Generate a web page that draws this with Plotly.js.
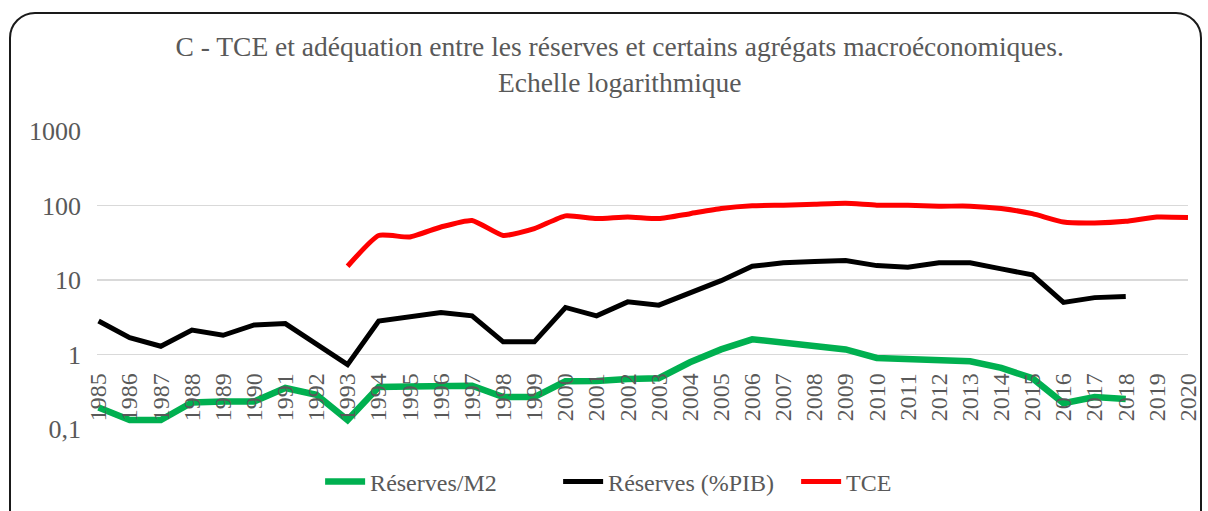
<!DOCTYPE html>
<html>
<head>
<meta charset="utf-8">
<script src="https://cdn.plot.ly/plotly-3.0.1.min.js"></script>
<style>
  html, body { margin: 0; padding: 0; background: #fff; }
  #wrap { position: relative; width: 1208px; height: 511px; overflow: hidden; }
  #chart { position: absolute; left: 0; top: 0; width: 1208px; height: 511px; }
  #frame { position: absolute; left: 9px; top: 12px; width: 1189px; height: 540px;
           border: 2px solid #1a1a1a; border-radius: 26px; pointer-events: none; }
</style>
</head>
<body>
<div id="wrap">
  <div id="chart"></div>
  <div id="frame"></div>
</div>
<script>
const years = ['1985','1986','1987','1988','1989','1990','1991','1992','1993','1994','1995','1996','1997','1998','1999','2000','2001','2002','2003','2004','2005','2006','2007','2008','2009','2010','2011','2012','2013','2014','2015','2016','2017','2018','2019','2020'];

const reservesM2 = [0.194,0.132,0.132,0.227,0.234,0.234,0.355,0.288,0.132,0.366,0.373,0.381,0.381,0.268,0.268,0.436,0.44,0.469,0.48,0.787,1.17,1.6,1.44,1.36,1.17,0.90,0.856,0.84,0.81,0.66,0.48,0.222,0.268,0.252,null,null];

const reservesPIB = [2.82,1.68,1.29,2.13,1.81,2.49,2.6,1.36,0.73,2.82,3.23,3.66,3.3,1.48,1.48,4.28,3.3,5.09,4.59,6.8,9.8,15.3,17,17.7,18.2,15.6,14.8,17,17,14.1,11.7,5.0,5.8,6.0,null,null];

const tce = [null,null,null,null,null,null,null,null,15.3,39.6,37.8,51.5,63,39.6,48.9,72.6,66.7,70.3,66.7,77.7,91,99,101,104,107,101,101,98,98,91,77.7,60,58.4,61.4,70,68.9];

const yTickVals = [0.1, 1, 10, 100, 1000];
const yTickText = ['0,1', '1', '10', '100', '1000'];

const serif = "'Liberation Serif', 'Times New Roman', Times, serif";
const grey = '#595959';

const traces = [
  { x: years, y: reservesM2, name: 'Réserves/M2', type: 'scatter', mode: 'lines',
    line: { color: '#00B050', width: 6.5 }, cliponaxis: false },
  { x: years, y: reservesPIB, name: 'Réserves (%PIB)', type: 'scatter', mode: 'lines',
    line: { color: '#000000', width: 5 }, cliponaxis: false },
  { x: years, y: tce, name: 'TCE', type: 'scatter', mode: 'lines',
    line: { color: '#FF0000', width: 5, shape: 'spline', smoothing: 0.5 }, cliponaxis: false }
];

const layout = {
  width: 1208, height: 511,
  paper_bgcolor: '#ffffff', plot_bgcolor: '#ffffff',
  margin: { l: 97, r: 20, t: 131, b: 82, pad: 0 },
  title: {
    text: 'C - TCE et adéquation entre les réserves et certains agrégats macroéconomiques.<br>Echelle logarithmique',
    font: { family: serif, size: 27.5, color: grey },
    x: 0.513, xref: 'container', xanchor: 'center',
    y: 0.89, yref: 'container', yanchor: 'top'
  },
  xaxis: {
    type: 'category', range: [-0.05, 35],
    anchor: 'free', position: 0.25,
    showgrid: false, showline: false, zeroline: false, ticks: '',
    tickangle: -90, ticklabelstandoff: 13,
    tickfont: { family: serif, size: 24, color: grey }
  },
  yaxis: {
    type: 'log', range: [-1, 3], domain: [0, 1],
    tickvals: yTickVals, ticktext: yTickText,
    showgrid: true, gridcolor: '#d9d9d9', gridwidth: 1.5,
    showline: false, zeroline: false, ticks: '',
    ticklabelstandoff: 15,
    tickfont: { family: serif, size: 26, color: grey }
  },
  showlegend: true,
  legend: {
    orientation: 'h', x: 0.265, xref: 'container', xanchor: 'left',
    y: 0.057, yref: 'container', yanchor: 'middle',
    font: { family: serif, size: 24, color: grey },
    itemwidth: 40, tracegroupgap: 0, entrywidth: 183
  }
};

Plotly.newPlot('chart', traces, layout, { staticPlot: true, displayModeBar: false });
</script>
</body>
</html>
